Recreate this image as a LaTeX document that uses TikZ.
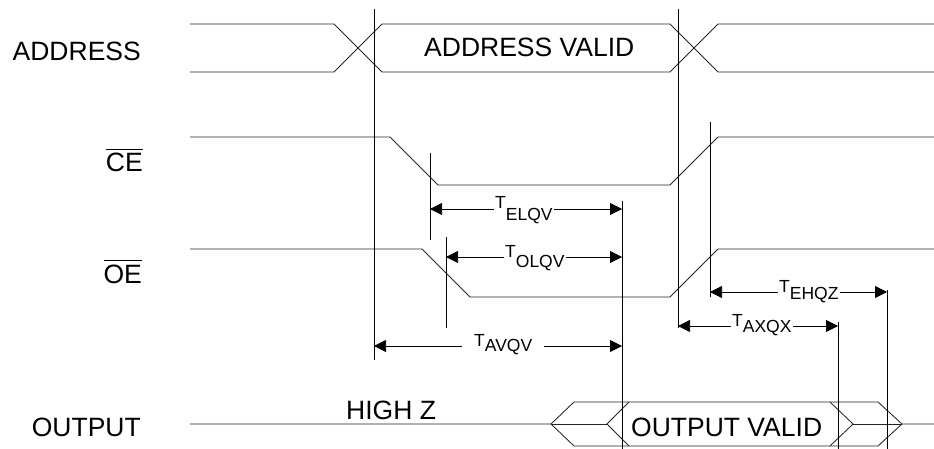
\documentclass[tikz,border=0pt]{standalone}
\usepackage{fontspec}
\setmainfont{Liberation Sans}
\usetikzlibrary{arrows.meta}
\newcommand{\ovlbar}[1]{\vbox{\hrule height 1.3pt\kern 3pt\hbox{#1}}}
\newcommand{\tsub}[2]{T\raisebox{-#1pt}{#2}}
\begin{document}
\begin{tikzpicture}[x=1pt,y=-1pt,
  sig/.style={line width=0.85pt, color=black!85},
  vline/.style={line width=0.75pt, color=black},
  dimarrow/.style={line width=0.75pt, {Triangle[length=12pt,width=12pt]}-{Triangle[length=12pt,width=12pt]}},
  big/.style={font=\fontsize{26.5}{29}\selectfont, inner sep=0pt},
  tlab/.style={font=\fontsize{17.5}{18}\selectfont, fill=white, inner ysep=0.5pt, inner xsep=1pt, anchor=base west},
]
\useasboundingbox (0,0) rectangle (934,449);

% ADDRESS
\draw[sig] (190,24) -- (334,24) -- (382,72) -- (670,72) -- (718,24) -- (934,24);
\draw[sig] (190,72) -- (334,72) -- (382,24) -- (670,24) -- (718,72) -- (934,72);
% CE
\draw[sig] (190,137) -- (390,137) -- (438,185) -- (670,185) -- (718,137) -- (934,137);
% OE
\draw[sig] (190,249) -- (422,249) -- (470,297) -- (670,297) -- (718,249) -- (934,249);
% OUTPUT
\draw[sig] (190,424) -- (551,424) -- (574,402) -- (878,402) -- (902,424) -- (934,424);
\draw[sig] (551,424) -- (574,446) -- (878,446) -- (902,424);
\draw[sig] (551,424) -- (607,424);
\draw[sig] (629,402) -- (607,424) -- (629,446);
\draw[sig] (830,402) -- (853,424) -- (830,446);
\draw[sig] (853,424) -- (902,424);

% vertical reference lines
\coordinate (v1t) at (374,9);   \coordinate (v1b) at (374,360);
\coordinate (v2t) at (678,9);   \coordinate (v2b) at (678,328);
\coordinate (v3t) at (430,153); \coordinate (v3b) at (430,240);
\coordinate (v4t) at (446,237); \coordinate (v4b) at (446,328);
\coordinate (v5t) at (622,201); \coordinate (v5b) at (622,449);
\coordinate (v6t) at (710,122); \coordinate (v6b) at (710,297);
\coordinate (v7t) at (838,322); \coordinate (v7b) at (838,449);
\coordinate (v8t) at (887,290); \coordinate (v8b) at (887,449);
\foreach \v in {1,...,8} \draw[vline] (v\v t) -- (v\v b);

% dimension arrows
\coordinate (elqvA) at (430,209); \coordinate (elqvB) at (622,209);
\coordinate (olqvA) at (446,257); \coordinate (olqvB) at (622,257);
\coordinate (avqvA) at (374,346); \coordinate (avqvB) at (622,346);
\coordinate (ehqzA) at (710,292); \coordinate (ehqzB) at (887,292);
\coordinate (axqxA) at (678,326); \coordinate (axqxB) at (838,326);
\draw[dimarrow] (elqvA) -- (elqvB);
\draw[dimarrow] (olqvA) -- (olqvB);
\draw[dimarrow] (avqvA) -- (avqvB);
\draw[dimarrow] (ehqzA) -- (ehqzB);
\draw[dimarrow] (axqxA) -- (axqxB);

\node[tlab] (telqv) at (494,209) {\tsub{11}{ELQV}};
\node[tlab] (tolqv) at (504,257) {\tsub{10}{OLQV}};
\node[tlab, inner xsep=12pt] (tavqv) at (462,346) {\tsub{5}{AVQV}};
\node[tlab] (tehqz) at (778,292) {\tsub{7}{EHQZ}};
\node[tlab] (taxqx) at (731,326) {\tsub{6}{AXQX}};

% labels
\node[big, anchor=base east] (lA) at (141,61) {ADDRESS};
\node[big, anchor=base east] (lC) at (143,172) {\ovlbar{CE}};
\node[big, anchor=base east] (lO) at (142,283) {\ovlbar{OE}};
\node[big, anchor=base east] (lQ) at (141,436) {OUTPUT};
\node[big, anchor=base west] (av) at (424,57) {ADDRESS VALID};
\node[big, anchor=base west] (hz) at (346,419) {HIGH Z};
\node[big, anchor=base west] (ov) at (631,436) {OUTPUT VALID};
\end{tikzpicture}
\end{document}
